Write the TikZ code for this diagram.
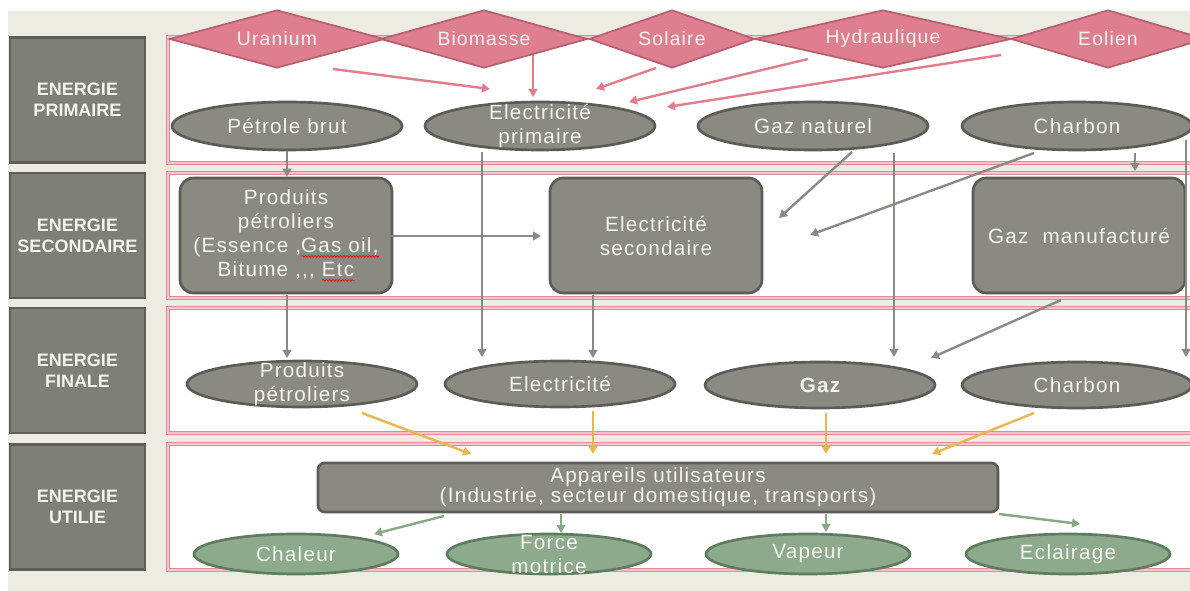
\documentclass[tikz,border=0pt]{standalone}
\usepackage{fontspec}
\setmainfont[LetterSpace=6]{Liberation Sans}
\usetikzlibrary{shapes.geometric,arrows.meta,decorations.pathmorphing}

\definecolor{bgbeige}{HTML}{EEEBE3}
\definecolor{boxfill}{HTML}{8A8A83}
\definecolor{boxline}{HTML}{5C5C57}
\definecolor{labfill}{HTML}{7F7F79}
\definecolor{labline}{HTML}{5F5F5A}
\definecolor{srcfill}{HTML}{DE7E8E}
\definecolor{srcline}{HTML}{B6606F}
\definecolor{framecol}{HTML}{E5899A}
\definecolor{framemid}{HTML}{F3C6CD}
\definecolor{pinkarrow}{HTML}{E07C8C}
\definecolor{grayarrow}{HTML}{8A8A85}
\definecolor{yelarrow}{HTML}{E8B850}
\definecolor{usefill}{HTML}{8DAB8C}
\definecolor{useline}{HTML}{5E7C5E}
\definecolor{greenarrow}{HTML}{86A886}
\definecolor{txt}{HTML}{F5F5F0}

% red spell-check squiggle under a word
\newdimen\sqw
\newcommand\squig[1]{\setbox0=\hbox{#1}\sqw=\wd0
  \rlap{\tikz[baseline=0pt,x=1pt,y=1pt]{\draw[red,line width=0.5pt,fill=none,rounded corners=0pt,
    decorate,decoration={snake,segment length=2.4pt,amplitude=0.7pt}] (0,-3) -- (\sqw,-3);}}\box0}

\begin{document}
\begin{tikzpicture}[x=0.75pt,y=-0.75pt,
  every node/.style={text=txt,font=\fontsize{15.5}{18}\selectfont,align=center,inner sep=0pt},
  lab/.style={rectangle,fill=labfill,draw=labline,line width=1.6pt,
    minimum width=101.25pt,minimum height=93.75pt,
    font=\fontsize{13.5}{16}\selectfont\bfseries\addfontfeature{LetterSpace=0}},
  frame/.style={draw=framecol,line width=0.9pt,double=framemid,double distance=0.9pt,fill=white},
  dia/.style={diamond,aspect=3.7,fill=srcfill,draw=srcline,line width=1.3pt,minimum height=43.5pt,
    font=\fontsize{14.5}{17}\selectfont},
  ell/.style={ellipse,fill=boxfill,draw=boxline,line width=2pt,minimum width=172.5pt,minimum height=36pt},
  ellf/.style={ell,minimum height=34.5pt},
  rbox/.style={rectangle,rounded corners=10pt,fill=boxfill,draw=boxline,line width=2pt,
    minimum width=159pt,minimum height=86.25pt},
  use/.style={ellipse,fill=usefill,draw=useline,line width=2pt,minimum width=153pt,minimum height=30pt},
  % two-line text laid over a node without enlarging it
  over/.style={label={center:#1}},
  pa/.style={draw=pinkarrow,line width=1.8pt,-{Triangle[length=6pt,width=6.5pt]}},
  ga/.style={draw=grayarrow,line width=1.8pt,-{Triangle[length=6pt,width=6.5pt]}},
  ya/.style={draw=yelarrow,line width=1.8pt,-{Triangle[length=6pt,width=6.5pt]}},
  gra/.style={draw=greenarrow,line width=1.8pt,-{Triangle[length=6pt,width=6.5pt]}}]

\useasboundingbox (0,0) rectangle (1190,591);
\clip (0,0) rectangle (1190,591);
\fill[white] (0,0) rectangle (1190,591);
\fill[bgbeige] (8,11) rectangle (1190,591);

% row frames
\draw[frame] (168,37) rectangle (1215,163);
\draw[frame] (168,173) rectangle (1215,298);
\draw[frame] (168,308) rectangle (1215,433);
\draw[frame] (168,444) rectangle (1215,570);

% row labels
\node[lab] (lp) at (77.5,100) {ENERGIE\\PRIMAIRE};
\node[lab] (ls) at (77.5,235.5) {ENERGIE\\SECONDAIRE};
\node[lab] (lf) at (77.5,370.5) {ENERGIE\\FINALE};
\node[lab] (lu) at (77.5,507) {ENERGIE\\UTILIE};

% primary sources
\node[dia,minimum width=161.25pt] (uran) at (277,39) {Uranium};
\node[dia,minimum width=155pt] (biom) at (484,39) {Biomasse};
\node[dia,minimum width=124pt] (sola) at (672,39) {Solaire};
\node[dia,minimum width=192pt] (hydr) at (883,39) {Hydraulique};
\node[dia,minimum width=145.5pt] (eoli) at (1108,39) {Eolien};

% primary energy
\node[ell] (petb) at (287,126) {Pétrole brut};
\node[ell,over={Electricité\\primaire}] (elp) at (540,126) {};
\node[ell] (gazn) at (813,126) {Gaz naturel};
\node[ell] (charb) at (1077,126) {Charbon};

% secondary energy
\node[rbox] (prod) at (286,235.5) {Produits\\pétroliers\\(Essence ,\squig{Gas oil,}\\Bitume {,}{,}{,} \squig{Etc}};
\node[rbox] (elsec) at (656,235.5) {Electricité\\secondaire};
\node[rbox] (gazm) at (1079,235.5) {Gaz\ \ manufacturé};

% final energy
\node[ellf,over={Produits\\pétroliers}] (prodf) at (302,384) {};
\node[ellf] (elf) at (560,384) {Electricité};
\node[ellf] (gazf) at (820,385) {\bfseries Gaz};
\node[ellf] (charf) at (1077,385) {Charbon};

% useful energy
\node[rectangle,rounded corners=5pt,fill=boxfill,draw=boxline,line width=2pt,
  minimum width=510pt,minimum height=36.75pt,font=\fontsize{15.5}{15}\selectfont] (app) at (658,487.5)
  {Appareils utilisateurs\\(Industrie, secteur domestique, transports)};
\node[use] (chal) at (296,554) {Chaleur};
\node[use,over={Force\\motrice}] (force) at (549,554) {};
\node[use] (vap) at (808,554) {Vapeur};
\node[use] (ecl) at (1068,554) {Eclairage};

% arrow end points
\coordinate (u1) at (333,69);   \coordinate (u2) at (490,89);
\coordinate (b1) at (533,55);   \coordinate (b2) at (533,97);
\coordinate (s1) at (656,68);   \coordinate (s2) at (596,89);
\coordinate (h1) at (808,59);   \coordinate (h2) at (629,102);
\coordinate (e1) at (1001,55);  \coordinate (e2) at (667,107);

\coordinate (ep1) at (482,152); \coordinate (ep2) at (482,357);
\coordinate (gn1) at (852,152); \coordinate (gn2) at (779,218);
\coordinate (gv1) at (894,153); \coordinate (gv2) at (894,357);
\coordinate (cb1) at (1034,153); \coordinate (cb2) at (810,235);
\coordinate (cs1) at (1135,153); \coordinate (cs2) at (1135,171);
\coordinate (cv1) at (1186,140); \coordinate (cv2) at (1186,357);
\coordinate (pe1) at (390,236); \coordinate (pe2) at (541,236);
\coordinate (gm1) at (1061,300); \coordinate (gm2) at (931,358);
\coordinate (ps1) at (287,295); \coordinate (ps2) at (287,358);
\coordinate (es1) at (593,295); \coordinate (es2) at (593,358);

\coordinate (y11) at (362,413); \coordinate (y12) at (471,454);
\coordinate (y21) at (593,411); \coordinate (y22) at (593,454);
\coordinate (y31) at (826,413); \coordinate (y32) at (826,454);
\coordinate (y41) at (1034,413); \coordinate (y42) at (932,454);

\coordinate (g11) at (444,516); \coordinate (g12) at (374,534);
\coordinate (g21) at (561,514); \coordinate (g22) at (561,533);
\coordinate (g31) at (826,514); \coordinate (g32) at (826,532);
\coordinate (g41) at (999,514); \coordinate (g42) at (1080,524);

% sources to primary electricity
\draw[pa] (u1) -- (u2);
\draw[pa] (b1) -- (b2);
\draw[pa] (s1) -- (s2);
\draw[pa] (h1) -- (h2);
\draw[pa] (e1) -- (e2);

% primary to secondary and final
\draw[ga] (petb.south) -- (petb.south |- prod.north);
\draw[ga] (ep1) -- (ep2);
\draw[ga] (gn1) -- (gn2);
\draw[ga] (gv1) -- (gv2);
\draw[ga] (cb1) -- (cb2);
\draw[ga] (cs1) -- (cs2);
\draw[ga] (cv1) -- (cv2);
\draw[ga] (pe1) -- (pe2);
\draw[ga] (ps1) -- (ps2);
\draw[ga] (es1) -- (es2);
\draw[ga] (gm1) -- (gm2);

% final energy to appliances
\draw[ya] (y11) -- (y12);
\draw[ya] (y21) -- (y22);
\draw[ya] (y31) -- (y32);
\draw[ya] (y41) -- (y42);

% appliances to useful energy
\draw[gra] (g11) -- (g12);
\draw[gra] (g21) -- (g22);
\draw[gra] (g31) -- (g32);
\draw[gra] (g41) -- (g42);
\end{tikzpicture}
\end{document}
